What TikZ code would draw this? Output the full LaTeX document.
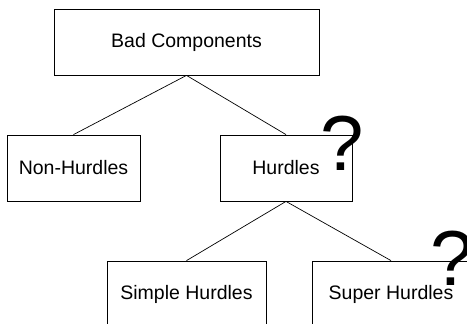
\documentclass[tikz,border=0pt]{standalone}
\usepackage{fontspec}
\setmainfont{Liberation Sans}
\usetikzlibrary{positioning}

\begin{document}
\begin{tikzpicture}[x=1pt, y=1pt,
    compBox/.style={draw=black, fill=white, line width=0.8pt, minimum height=66pt, inner sep=0pt, font=\fontsize{19.5}{22}\selectfont},
    linkStyle/.style={line width=0.7pt, draw=black},
    queryMark/.style={anchor=base, inner sep=0pt, font=\fontsize{78}{78}\selectfont}
]
    \useasboundingbox (0,0) rectangle (467,-324);
    \clip (0,0) rectangle (467,-324);

    % Radice
    \node[compBox, minimum width=265pt] (bad) at (186.5,-42) {Bad Components};

    % Primo livello
    \node[compBox, minimum width=133pt] (nonhurdles) at (73.5,-168) {Non-Hurdles};
    \node[compBox, minimum width=132pt] (hurdles) at (286,-168) {Hurdles};

    % Secondo livello
    \node[compBox, minimum width=159pt] (simple) at (186.5,-294) {Simple Hurdles};
    \node[compBox, minimum width=157pt] (super) at (391,-294) {Super Hurdles};

    \draw[linkStyle] (bad.south) -- (nonhurdles.north);
    \draw[linkStyle] (bad.south) -- (hurdles.north);
    \draw[linkStyle] (hurdles.south) -- (simple.north);
    \draw[linkStyle] (hurdles.south) -- (super.north);

    % Punti interrogativi
    \node[queryMark] (qhurdles) at (342,-170) {?};
    \node[queryMark] (qsuper) at (452,-285) {?};
\end{tikzpicture}
\end{document}
